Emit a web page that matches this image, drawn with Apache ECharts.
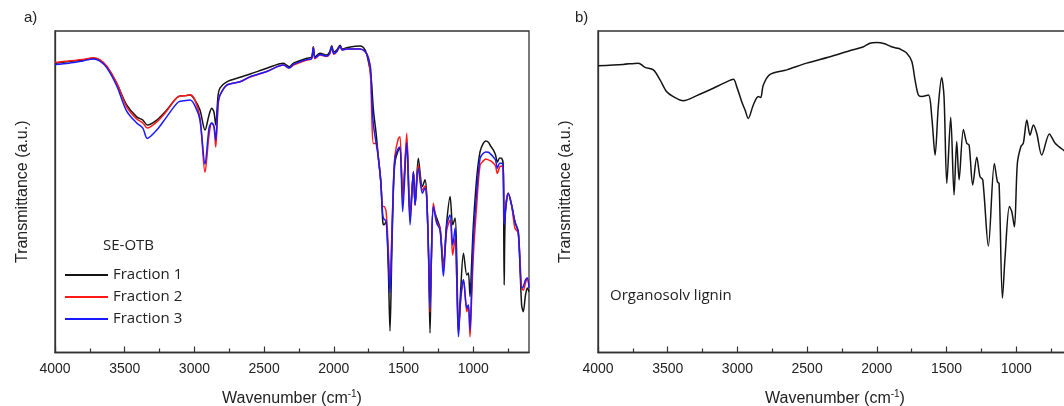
<!DOCTYPE html>
<html>
<head>
<meta charset="utf-8">
<script src="https://cdn.jsdelivr.net/npm/echarts@6/dist/echarts.min.js"></script>
<style>
html,body{margin:0;padding:0;background:#fff;}
#chart{width:1064px;height:406px;}
</style>
</head>
<body>
<div id="chart"></div>
<script>
// ---- Panel a) SE-OTB fractions: wavenumber (cm-1) and transmittance (a.u.) ----
const wnA = [4000,3900,3800,3725,3680,3629,3557,3486,3414,3370,3338,3270,3199,3115,3060,3031,2996,2960,2924,2895,2876,2860,2847,2830,2816,2768,2673,2600,2481,2362,2320,2290,2194,2160,2147,2135,2099,2051,2030,2015,2000,1979,1955,1940,1907,1812,1776,1752,1735,1728,1716,1697,1680,1663,1649,1640,1625,1609,1597,1585,1573,1561,1537,1525,1506,1477,1453,1429,1417,1394,1365,1346,1334,1320,1310,1300,1286,1262,1238,1214,1190,1166,1147,1130,1118,1106,1090,1070,1046,1035,1023,1012,999,975,951,927,910,891,875,856,840,827,810,796,785,778,770,749,725,701,677,653,641,625,612,600];
const fraction1 = [90.0,90.5,91.0,91.5,91.0,88.9,83.7,77.0,73.3,72.3,70.8,72.3,75.4,79.6,79.9,80.1,78.5,75.4,69.2,73.9,76.0,74.8,70.8,80.1,82.3,84.2,85.6,86.6,88.4,90.0,88.9,90.0,91.5,91.9,95.1,92.0,93.1,92.5,93.5,95.4,93.5,94.1,95.6,94.4,94.8,95.3,94.1,90.5,86.4,83.2,75.4,68.3,60.4,53.1,40.7,39.7,40.7,25.7,6.7,28.8,50.0,59.3,63.0,63.6,49.0,65.8,42.8,56.2,45.9,60.4,51.6,53.7,49.0,28.8,6.1,28.8,44.9,41.8,38.7,27.2,40.7,48.5,39.7,41.8,28.8,6.1,19.4,30.9,24.1,24.7,17.4,27.2,39.7,54.3,62.5,65.1,65.8,65.4,64.2,63.0,61.4,59.2,60.5,60.4,58.3,21.0,42.8,49.5,45.9,40.7,37.6,14.8,12.7,17.9,20.1,18.9];
const fraction2 = [90.2,90.7,91.1,91.7,91.1,89.1,83.8,76.4,72.6,71.4,69.8,71.7,75.1,79.6,79.9,80.2,78.5,72.9,56.1,67.7,71.4,70.2,63.9,77.0,80.1,83.2,84.2,85.7,87.4,89.4,88.5,89.4,91.0,91.3,94.9,91.4,92.5,92.1,92.8,95.0,92.8,93.5,95.2,94.1,94.4,94.4,93.6,91.6,84.8,73.9,65.0,65.1,60.4,53.1,45.4,45.4,43.8,31.9,21.0,35.0,52.1,61.4,66.6,67.1,46.9,68.2,41.2,56.2,45.9,58.3,50.5,51.8,48.4,30.3,12.6,30.3,46.4,40.6,38.7,26.3,38.1,41.2,30.3,35.6,22.6,6.4,16.3,22.6,12.7,14.8,4.9,16.3,30.3,45.9,58.3,59.6,60.2,59.9,59.6,58.9,58.0,55.7,57.7,58.0,56.8,40.6,44.3,49.5,45.9,38.7,37.2,20.1,19.4,21.6,23.2,21.0];
const fraction3 = [89.6,90.0,90.7,91.3,90.7,88.6,82.9,75.1,71.4,69.8,66.6,69.2,73.3,77.9,78.4,78.5,76.7,72.3,58.6,69.8,71.4,70.5,66.1,77.6,80.1,83.2,84.2,85.8,87.4,89.4,88.5,89.6,91.1,91.4,94.7,91.6,92.7,92.2,93.0,95.0,93.0,93.6,95.2,94.1,94.4,94.4,93.6,91.6,87.9,79.2,70.8,65.3,60.4,53.1,42.8,41.5,40.9,28.8,18.5,33.4,51.2,60.5,63.5,63.9,43.8,65.3,39.7,56.2,45.9,57.3,49.5,51.2,48.1,30.3,13.8,30.3,45.4,40.3,38.1,23.8,39.7,42.8,33.4,38.7,22.6,4.9,17.0,22.6,13.8,14.8,7.0,19.4,35.6,50.0,60.4,62.0,62.4,62.3,61.7,60.8,59.9,57.3,58.9,58.9,57.7,39.7,43.7,49.5,45.9,40.6,37.5,20.1,20.5,22.6,23.2,20.1];

// ---- Panel b) Organosolv lignin ----
const wnB = [4000,3820,3711,3663,3603,3555,3507,3460,3388,3292,3173,3101,3029,3005,2969,2945,2922,2886,2850,2833,2814,2766,2646,2503,2336,2200,2100,2050,2000,1950,1900,1860,1833,1785,1749,1726,1702,1678,1630,1606,1582,1559,1535,1518,1498,1470,1446,1427,1410,1379,1355,1338,1312,1283,1260,1240,1200,1157,1135,1123,1099,1080,1049,1032,1013,992,967,949,924,901,877,853,817,762,721,657,640,600];
const lignin = [89.2,89.6,90.0,88.7,87.9,84.8,81.1,79.6,78.3,79.9,82.2,83.7,85.0,82.7,78.0,75.4,72.8,77.0,79.6,79.3,83.2,86.5,87.9,90.0,92.0,93.8,95.0,96.2,96.4,96.1,95.2,94.7,94.4,93.1,90.5,84.8,80.1,79.6,80.1,73.3,61.4,76.5,85.5,79.6,52.6,73.2,49.0,65.6,53.7,69.4,65.1,64.5,52.1,60.7,54.7,53.7,33.1,58.8,53.1,52.6,16.9,29.8,45.4,43.8,39.1,58.8,64.0,65.1,72.3,67.6,70.8,68.2,61.4,68.0,65.1,62.8,62.4,61.4];

// ---- Axis tick labels ----
const majorTicks = [4000,3500,3000,2500,2000,1500,1000];
const minorTicks = [3750,3250,2750,2250,1750,1250,750];
const seriesNames = ['Fraction 1','Fraction 2','Fraction 3'];
const colors = ['#141414','#ff1a1a','#1a1aff'];

const zip = (xs, ys) => xs.map((x, i) => [x, ys[i]]);
const AX = '#333';
const SANS = '"Liberation Sans", Arial, sans-serif';
const OPEN = '"Open Sans", "Liberation Sans", sans-serif';

function mainX(grid) {
  return {
    type: 'value', gridIndex: grid, min: 600, max: 4000, inverse: true, position: 'bottom',
    axisLine: { show: true, onZero: false, lineStyle: { color: AX, width: 1.3 } },
    axisTick: { show: true, inside: true, length: 6, customValues: majorTicks, lineStyle: { color: AX, width: 1.2 } },
    axisLabel: { customValues: majorTicks, formatter: v => String(v), fontSize: 14, color: '#222', fontFamily: SANS, margin: 10 },
    splitLine: { show: false },
    name: 'Wavenumber (cm{sup|-1})', nameLocation: 'middle', nameGap: 37,
    nameTextStyle: { fontSize: 16, color: '#222', fontFamily: SANS,
      rich: { sup: { fontSize: 10, verticalAlign: 'top', color: '#222', fontFamily: SANS, padding: [0, 0, 8, 0] } } }
  };
}
function minorX(grid) {
  return {
    type: 'value', gridIndex: grid, min: 600, max: 4000, inverse: true, position: 'bottom',
    axisLine: { show: false },
    axisTick: { show: true, inside: true, length: 4, customValues: minorTicks, lineStyle: { color: AX, width: 1.2 } },
    axisLabel: { show: false }, splitLine: { show: false }
  };
}
function yAx(grid) {
  return {
    type: 'value', gridIndex: grid, min: 0, max: 100,
    axisLine: { show: true, lineStyle: { color: AX, width: 1.3 } },
    axisTick: { show: false }, axisLabel: { show: false }, splitLine: { show: false },
    name: 'Transmittance (a.u.)', nameLocation: 'middle', nameGap: 24, nameRotate: 90,
    nameTextStyle: { fontSize: 16, color: '#222', fontFamily: SANS }
  };
}
function line(name, data, color, xi, yi) {
  return { name, type: 'line', xAxisIndex: xi, yAxisIndex: yi, data, symbol: 'none',
    smooth: 0.3, lineStyle: { color, width: 1.5 }, itemStyle: { color }, animation: false };
}

const chart = echarts.init(document.getElementById('chart'), null, { renderer: 'canvas' });
chart.setOption({
  backgroundColor: '#fff',
  animation: false,
  title: [
    { text: 'a)', left: 24, top: 10, padding: 0, textStyle: { fontSize: 15, fontWeight: 'normal', color: '#222', fontFamily: SANS } },
    { text: 'b)', left: 575, top: 10, padding: 0, textStyle: { fontSize: 15, fontWeight: 'normal', color: '#222', fontFamily: SANS } },
    { text: 'SE-OTB', left: 103, top: 238, padding: 0, textStyle: { fontSize: 15, fontWeight: 'normal', color: '#222', fontFamily: OPEN } },
    { text: 'Organosolv lignin', left: 610, top: 288, padding: 0, textStyle: { fontSize: 15, fontWeight: 'normal', color: '#222', fontFamily: OPEN } }
  ],
  legend: {
    data: seriesNames.map(n => ({ name: n, icon: 'rect' })), orient: 'vertical', left: 65, top: 266, padding: 0,
    itemWidth: 43, itemHeight: 2, itemGap: 4,
    textStyle: { fontSize: 15, color: '#222', fontFamily: OPEN, lineHeight: 18 }
  },
  grid: [
    { left: 55, top: 31, width: 474, height: 321.5, outerBoundsMode: 'none', containLabel: false, show: true, borderColor: AX, borderWidth: 1.3, backgroundColor: 'transparent' },
    { left: 598, top: 31, width: 474, height: 321.5, outerBoundsMode: 'none', containLabel: false, show: true, borderColor: AX, borderWidth: 1.3, backgroundColor: 'transparent' }
  ],
  xAxis: [mainX(0), minorX(0), mainX(1), minorX(1)],
  yAxis: [yAx(0), yAx(1)],
  series: [
    line(seriesNames[0], zip(wnA, fraction1), colors[0], 0, 0),
    line(seriesNames[1], zip(wnA, fraction2), colors[1], 0, 0),
    line(seriesNames[2], zip(wnA, fraction3), colors[2], 0, 0),
    line('Organosolv lignin', zip(wnB, lignin), colors[0], 2, 1)
  ]
});
</script>
</body>
</html>
